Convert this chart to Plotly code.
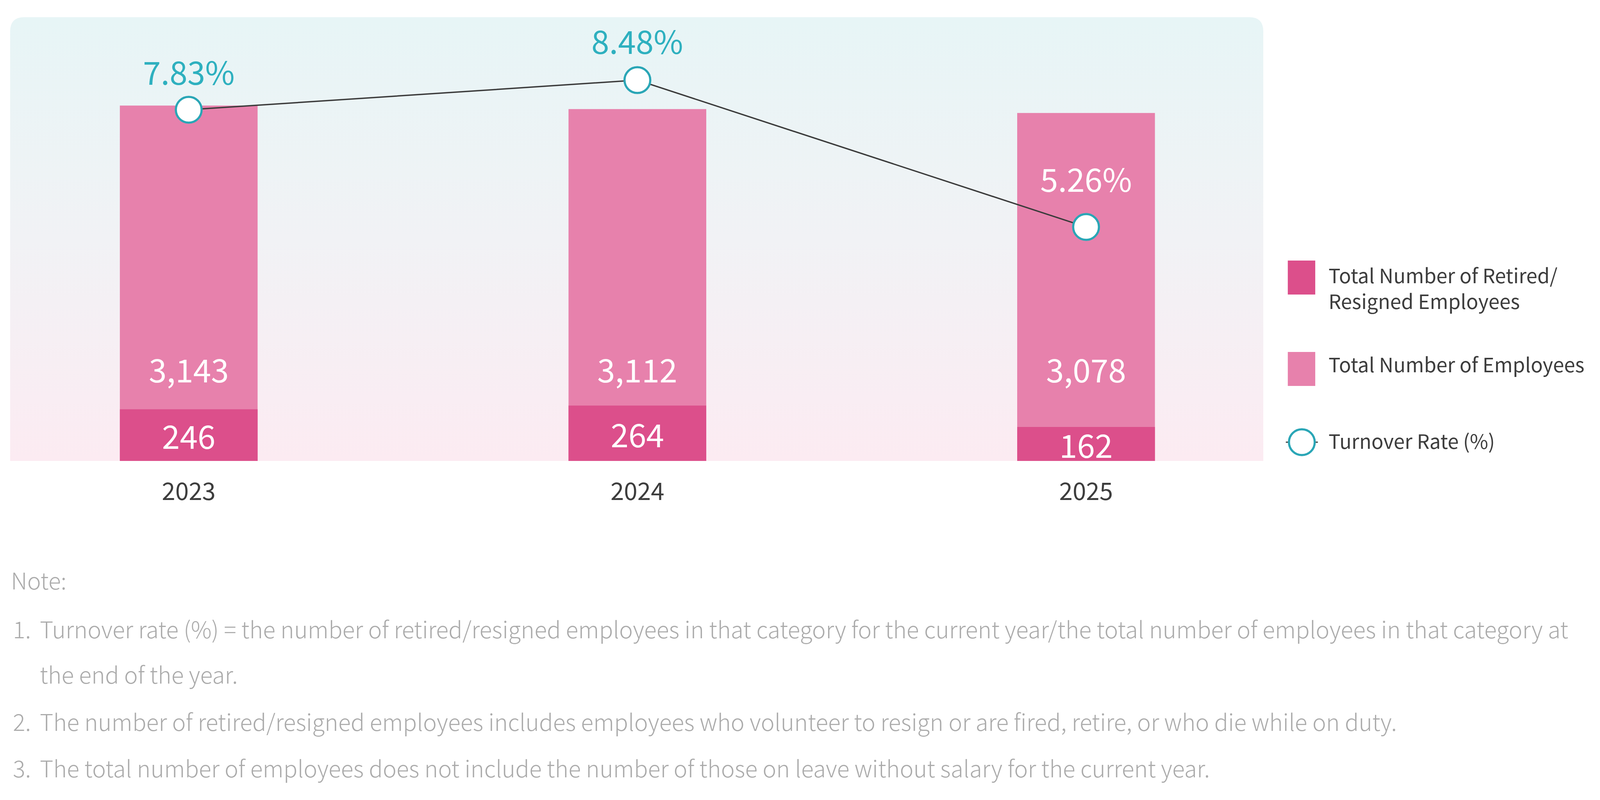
import base64
import plotly.graph_objects as go

# ---------------- data ----------------
years = ["2023", "2024", "2025"]
total_employees = [3143, 3112, 3078]
retired_resigned = [246, 264, 162]
turnover_rate = [7.83, 8.48, 5.26]

legend_labels = ["Total Number of Retired/<br>Resigned Employees",
                 "Total Number of Employees", "Turnover Rate (%)"]
note_title = "Note:"
note_numbers = ["1.", "2.", "3."]
note_lines = [
    "Turnover rate (%) = the number of retired/resigned employees in that category for the current year/the total number of employees in that category at",
    "the end of the year.",
    "The number of retired/resigned employees includes employees who volunteer to resign or are fired, retire, or who die while on duty.",
    "The total number of employees does not include the number of those on leave without salary for the current year.",
]

# ---------------- style ----------------
FONT = "Noto Sans CJK TC, Source Sans Pro, Noto Sans, sans-serif"
C_LIGHT = "#e781ac"
C_DARK = "#dc4f8b"
C_TEAL = "#2eb0bf"
C_TEAL_EDGE = "#2aa6b6"
C_LINE = "#3b3b3b"
C_TEXT = "#3d3d3d"
C_NOTE = "#ababab"

# the browser viewport is 4096 x 2048 with an 8px body margin
W, H = 4088, 2040
ML, MT = 18, 36
PW, PH = 3208, 1136
MR, MB = W - ML - PW, H - MT - PH

F_NUM = 82
F_YEAR = 62
F_LEG = 51
F_NOTE = 59

svg = f'''<svg xmlns="http://www.w3.org/2000/svg" width="{PW}" height="{PH}" viewBox="0 0 {PW} {PH}" preserveAspectRatio="none">
<defs><linearGradient id="g" x1="0" y1="0" x2="0" y2="1">
<stop offset="0" stop-color="#e7f5f6"/><stop offset="0.5" stop-color="#f1f2f5"/><stop offset="1" stop-color="#fcebf2"/>
</linearGradient></defs>
<path d="M0,36 Q0,0 36,0 H{PW-36} Q{PW},0 {PW},36 V{PH} H0 Z" fill="url(#g)"/></svg>'''
bg_src = "data:image/svg+xml;base64," + base64.b64encode(svg.encode()).decode()


# reference-picture pixel -> paper coordinate of the plot area
def rx(px):
    return (px - 31) / 3834


def ry(py):
    return (1180 - py) / 1136


fig = go.Figure()

fig.add_trace(go.Bar(
    x=years, y=total_employees, yaxis="y", width=0.307,
    marker=dict(color=C_LIGHT, line=dict(width=0)),
    name="Total Number of Employees", hoverinfo="x+y",
))
fig.add_trace(go.Bar(
    x=years, y=retired_resigned, yaxis="y3", width=0.307,
    marker=dict(color=C_DARK, line=dict(width=0)),
    text=[f"{v:,}" for v in retired_resigned], textposition="inside",
    insidetextanchor="middle", constraintext="none", textangle=0,
    textfont=dict(family=FONT, size=F_NUM, color="white"),
    name="Total Number of Retired/Resigned Employees", hoverinfo="x+y",
))
fig.add_trace(go.Scatter(
    x=years, y=turnover_rate, yaxis="y2", mode="lines+markers",
    line=dict(color=C_LINE, width=3.5),
    marker=dict(size=66, color="white", line=dict(color=C_TEAL_EDGE, width=5.5)),
    cliponaxis=False, name="Turnover Rate (%)",
))

annotations = []
# totals labels (inside the light bars, above the dark part)
for i, t in enumerate(total_employees):
    annotations.append(dict(x=i, y=ry(944), xref="x", yref="paper", text=f"{t:,}",
                            yanchor="middle", showarrow=False,
                            font=dict(family=FONT, size=F_NUM, color="white")))
# percentage labels above the markers
pct_shift = [100, 103, 126]
pct_color = [C_TEAL, C_TEAL, "white"]
for i, (r, s, c) in enumerate(zip(turnover_rate, pct_shift, pct_color)):
    annotations.append(dict(x=i, y=r, xref="x", yref="y2", text=f"{r:.2f}%", yshift=s,
                            yanchor="middle", showarrow=False,
                            font=dict(family=FONT, size=F_NUM, color=c)))

# legend (manual)
leg_y = [736, 931, 1127]
for lab, yy in zip(legend_labels, leg_y):
    annotations.append(dict(x=rx(4062), y=ry(yy), xref="paper", yref="paper",
                            xanchor="left", yanchor="middle", align="left", text=lab,
                            showarrow=False, font=dict(family=FONT, size=F_LEG, color=C_TEXT)))

shapes = []
sq_x0, sq_x1 = rx(3940), rx(4024)
shapes.append(dict(type="rect", xref="paper", yref="paper", x0=sq_x0, x1=sq_x1,
                   y0=ry(754), y1=ry(667), fillcolor=C_DARK, line=dict(width=0)))
shapes.append(dict(type="rect", xref="paper", yref="paper", x0=sq_x0, x1=sq_x1,
                   y0=ry(988), y1=ry(901), fillcolor=C_LIGHT, line=dict(width=0)))
cx, cy = rx(3983), ry(1132)
rpx = 33
shapes.append(dict(type="line", xref="paper", yref="paper", x0=rx(3934), x1=rx(4032),
                   y0=cy, y1=cy, line=dict(color=C_LINE, width=3)))
shapes.append(dict(type="circle", xref="paper", yref="paper",
                   x0=cx - rpx / PW, x1=cx + rpx / PW, y0=cy - rpx / PH, y1=cy + rpx / PH,
                   fillcolor="white", line=dict(color=C_TEAL_EDGE, width=5.5)))

# notes
note_font = dict(family=FONT, size=F_NOTE, color=C_NOTE, weight=300)
annotations.append(dict(x=rx(31), y=ry(1483), xref="paper", yref="paper",
                        xanchor="left", yanchor="middle", text=note_title, showarrow=False,
                        font=note_font))
for n, yy in zip(note_numbers, [1608, 1845, 1964]):
    annotations.append(dict(x=rx(37), y=ry(yy), xref="paper", yref="paper",
                            xanchor="left", yanchor="middle", text=n, showarrow=False,
                            font=note_font))
for t, yy in zip(note_lines, [1608, 1724, 1845, 1964]):
    annotations.append(dict(x=rx(119), y=ry(yy), xref="paper", yref="paper",
                            xanchor="left", yanchor="middle", text=t, showarrow=False,
                            font=note_font))

fig.update_layout(
    width=W, height=H,
    margin=dict(l=ML, r=MR, t=MT, b=MB, pad=0),
    paper_bgcolor="white", plot_bgcolor="rgba(0,0,0,0)",
    barmode="overlay", showlegend=False,
    font=dict(family=FONT, color=C_TEXT),
    xaxis=dict(type="category", range=[-0.398, 2.395], showgrid=False, zeroline=False,
               showline=False, ticks="outside", ticklen=25, tickcolor="rgba(0,0,0,0)",
               tickfont=dict(family=FONT, size=F_YEAR, color=C_TEXT)),
    yaxis=dict(range=[0, 3925], visible=False, fixedrange=True),
    yaxis2=dict(range=[0.13, 9.86], overlaying="y", visible=False),
    yaxis3=dict(range=[0, 2114], overlaying="y", visible=False),
    images=[dict(source=bg_src, xref="paper", yref="paper", x=0, y=1, sizex=1, sizey=1,
                 xanchor="left", yanchor="top", sizing="stretch", layer="below")],
    annotations=annotations, shapes=shapes,
)

fig.write_html("out.html")
